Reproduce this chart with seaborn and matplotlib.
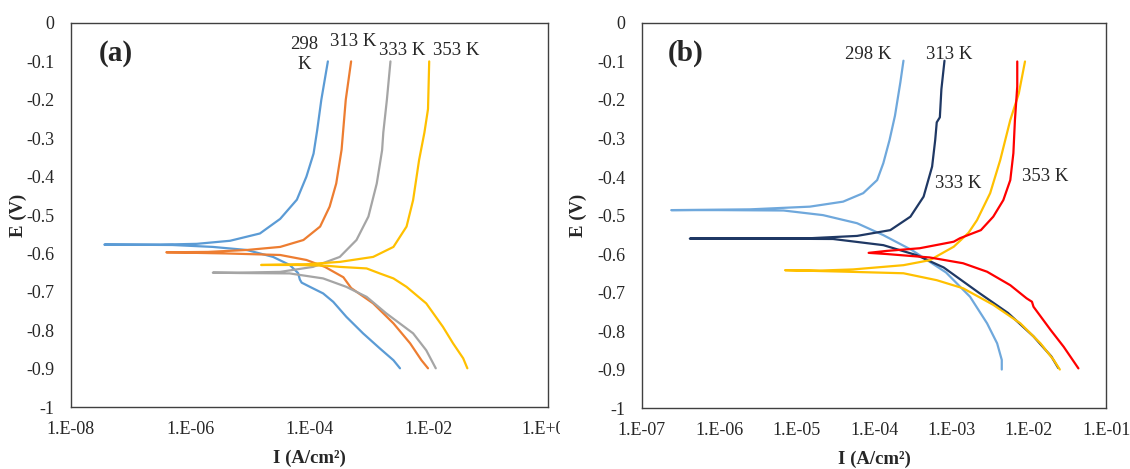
# Tafel polarisation curves at four temperatures, panels (a) and (b)

import matplotlib
matplotlib.use("Agg")
import matplotlib.pyplot as plt
from matplotlib.ticker import NullLocator, FixedLocator, FuncFormatter
from matplotlib.transforms import Bbox
import numpy as np
import seaborn as sns

# ---- data: potential E (V) and log10 of current (A/cm2)
# each curve runs from the anodic top end down to Ecorr, then out the cathodic branch

# panel (a)
E_a_298 = [-0.10, -0.20, -0.28, -0.34, -0.40, -0.46, -0.51, -0.548, -0.567, -0.575, -0.577, -0.577,
           -0.578, -0.583, -0.591, -0.609, -0.630, -0.651, -0.668, -0.676, -0.687, -0.704, -0.726,
           -0.765, -0.808, -0.847, -0.878, -0.899]
logI_a_298 = [-3.69, -3.80, -3.87, -3.93, -4.05, -4.21, -4.49, -4.83, -5.33, -5.89, -6.50, -7.44,
              -6.30, -5.62, -5.05, -4.61, -4.33, -4.19, -4.16, -4.13, -3.99, -3.77, -3.60,
              -3.38, -3.10, -2.82, -2.59, -2.48]

E_a_313 = [-0.10, -0.20, -0.33, -0.418, -0.478, -0.530, -0.565, -0.583, -0.591, -0.596, -0.597,
           -0.600, -0.604, -0.617, -0.635, -0.662, -0.690, -0.730, -0.782, -0.834, -0.878, -0.899]
logI_a_313 = [-3.30, -3.39, -3.46, -3.55, -3.66, -3.82, -4.10, -4.49, -5.05, -5.70, -6.40,
              -5.40, -4.49, -4.05, -3.74, -3.43, -3.30, -2.93, -2.59, -2.31, -2.12, -2.01]

E_a_333 = [-0.10, -0.20, -0.285, -0.331, -0.418, -0.504, -0.565, -0.609, -0.635, -0.648, -0.650, -0.650,
           -0.651, -0.652, -0.665, -0.687, -0.713, -0.756, -0.808, -0.852, -0.899]
logI_a_333 = [-2.64, -2.70, -2.76, -2.78, -2.87, -3.01, -3.21, -3.49, -3.94, -4.49, -5.20, -5.62,
              -5.17, -4.33, -3.77, -3.38, -3.04, -2.71, -2.26, -2.04, -1.88]

E_a_353 = [-0.10, -0.224, -0.285, -0.357, -0.461, -0.530, -0.583, -0.609, -0.622, -0.628, -0.630,
           -0.630, -0.632, -0.635, -0.639, -0.652, -0.665, -0.687, -0.730, -0.791, -0.834, -0.873, -0.899]
logI_a_353 = [-1.99, -2.01, -2.07, -2.16, -2.26, -2.37, -2.59, -2.93, -3.49, -4.05, -4.81,
              -4.20, -3.71, -3.49, -3.04, -2.82, -2.59, -2.37, -2.04, -1.76, -1.59, -1.42, -1.35]

# panel (b)
E_b_298 = [-0.098, -0.154, -0.241, -0.304, -0.364, -0.408, -0.442, -0.464, -0.477, -0.484, -0.486,
           -0.486, -0.487, -0.499, -0.520, -0.551, -0.590, -0.648, -0.711, -0.780, -0.832, -0.875, -0.900]
logI_b_298 = [-3.62, -3.66, -3.73, -3.80, -3.88, -3.96, -4.14, -4.40, -4.83, -5.60, -6.62,
              -6.00, -5.17, -4.66, -4.22, -3.88, -3.51, -3.07, -2.76, -2.54, -2.41, -2.35, -2.35]

E_b_313 = [-0.098, -0.172, -0.245, -0.258, -0.304, -0.373, -0.451, -0.503, -0.538, -0.553, -0.559, -0.560,
           -0.560, -0.561, -0.577, -0.603, -0.635, -0.700, -0.753, -0.814, -0.866, -0.896]
logI_b_313 = [-3.09, -3.13, -3.15, -3.19, -3.21, -3.25, -3.36, -3.53, -3.79, -4.22, -4.83, -6.38,
              -5.60, -4.53, -3.88, -3.45, -3.10, -2.65, -2.27, -1.94, -1.71, -1.62]

E_b_333 = [-0.100, -0.183, -0.252, -0.356, -0.442, -0.512, -0.545, -0.581, -0.616, -0.629, -0.640, -0.643, -0.642,
           -0.646, -0.650, -0.668, -0.689, -0.732, -0.780, -0.832, -0.875, -0.900]
logI_b_333 = [-2.05, -2.13, -2.24, -2.37, -2.50, -2.67, -2.78, -2.97, -3.28, -3.62, -4.27, -4.70, -5.15,
              -4.35, -3.62, -3.19, -2.85, -2.46, -2.11, -1.85, -1.68, -1.60]

E_b_353 = [-0.100, -0.165, -0.252, -0.338, -0.408, -0.460, -0.503, -0.538, -0.559, -0.568, -0.585, -0.592, -0.597,
           -0.600, -0.609, -0.624, -0.646, -0.681, -0.715, -0.724, -0.737, -0.797, -0.841, -0.897]
logI_b_353 = [-2.15, -2.15, -2.18, -2.20, -2.24, -2.33, -2.46, -2.62, -2.89, -2.97, -3.41, -3.84, -4.07,
              -3.84, -3.28, -2.85, -2.54, -2.24, -2.03, -1.96, -1.94, -1.72, -1.55, -1.36]

colors_a = ['#5B9BD5', '#ED7D31', '#A5A5A5', '#FFC000']
colors_b = ['#6FA8DC', '#1F3864', '#FFC000', '#FF0000']

# curve labels: (text, log10 I, E)
labels_a = [('298\nK', -4.08, -0.082), ('313 K', -3.27, -0.049),
            ('333 K', -2.45, -0.072), ('353 K', -1.53, -0.072)]
labels_b = [('298 K', -4.07, -0.081), ('313 K', -3.03, -0.081),
            ('333 K', -2.91, -0.416), ('353 K', -1.79, -0.399)]

xticks_a = [-8, -6, -4, -2, 0]
xticks_b = [-7, -6, -5, -4, -3, -2, -1]
yticks = [0, -0.1, -0.2, -0.3, -0.4, -0.5, -0.6, -0.7, -0.8, -0.9, -1]

sns.set_style('white')
plt.rcParams['font.family'] = ['Liberation Serif', 'DejaVu Serif']
plt.rcParams['axes.unicode_minus'] = False


def style_axes(ax, xticks, panel, ylab_x):
    ax.set_xscale('log')
    ax.set_xlim(10.0 ** xticks[0], 10.0 ** xticks[-1])
    ax.set_ylim(-1, 0)
    ax.xaxis.set_major_locator(FixedLocator([10.0 ** p for p in xticks]))
    ax.xaxis.set_minor_locator(NullLocator())
    ax.xaxis.set_major_formatter(
        FuncFormatter(lambda v, pos: '1.E{:+03d}'.format(int(round(np.log10(v))))))
    ax.yaxis.set_major_locator(FixedLocator(yticks))
    ax.yaxis.set_major_formatter(FuncFormatter(lambda v, pos: '{:g}'.format(round(v, 1) + 0.0)))
    ax.tick_params(axis='x', length=0, pad=10, labelsize=13)
    ax.tick_params(axis='y', length=0, pad=12, labelsize=13)
    for sp in ax.spines.values():
        sp.set_color('#404040')
        sp.set_linewidth(1.0)
    ax.set_xlabel('I (A/cm²)', fontsize=13.5, fontweight='bold')
    ax.set_ylabel('E (V)', fontsize=13.5, fontweight='bold')
    ax.xaxis.set_label_coords(0.5, -0.11)
    ax.yaxis.set_label_coords(ylab_x, 0.5)
    ax.text(0.095, 0.92, panel, transform=ax.transAxes, fontsize=21,
            fontweight='bold', ha='center', va='center')
    ax.grid(False)


def draw_curves(ax, curves, colors, labels):
    for (E, logI), c in zip(curves, colors):
        sns.lineplot(x=10.0 ** np.array(logI), y=E, sort=False, estimator=None,
                     color=c, lw=1.6, ax=ax)
    for text, lx, ey in labels:
        ax.text(10.0 ** lx, ey, text, fontsize=13.5, ha='center', va='center',
                linespacing=1.25)


fig = plt.figure(figsize=(11.3, 4.69), dpi=100)
ax_a = fig.add_axes([0.0628, 0.132, 0.422, 0.819])
ax_b = fig.add_axes([0.568, 0.130, 0.411, 0.821])

draw_curves(ax_a, [(E_a_298, logI_a_298), (E_a_313, logI_a_313),
                   (E_a_333, logI_a_333), (E_a_353, logI_a_353)], colors_a, labels_a)
draw_curves(ax_b, [(E_b_298, logI_b_298), (E_b_313, logI_b_313),
                   (E_b_333, logI_b_333), (E_b_353, logI_b_353)], colors_b, labels_b)

style_axes(ax_a, xticks_a, '(a)', -0.092)
style_axes(ax_b, xticks_b, '(b)', -0.119)

# the right-most tick label of (a) is cut off at the panel edge in the original
fig.canvas.draw()
last = ax_a.get_xticklabels()[-1]
last.set_clip_box(Bbox([[0, 0], [560, 469]]))
last.set_clip_on(True)

fig.savefig('out.png', dpi=100)
